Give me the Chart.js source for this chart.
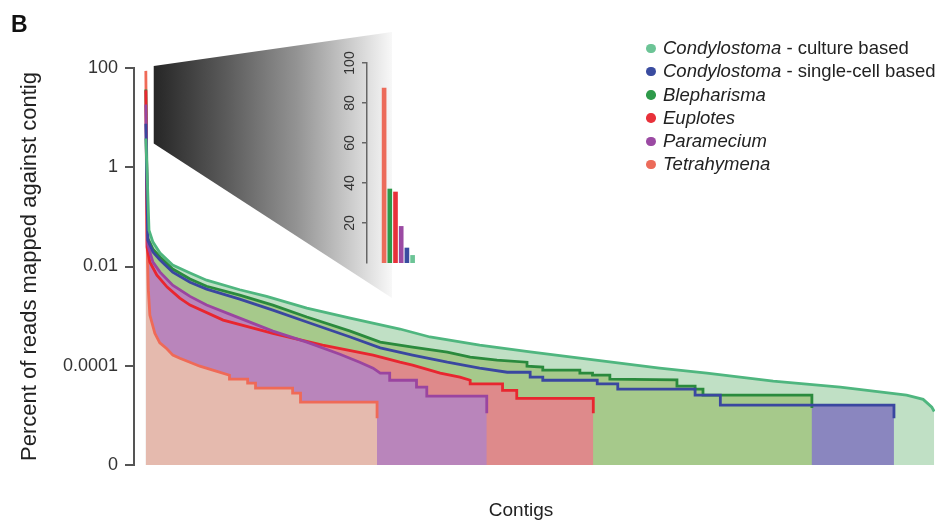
<!DOCTYPE html>
<html>
<head>
<meta charset="utf-8">
<script src="https://cdn.jsdelivr.net/npm/chart.js@4.4.1/dist/chart.umd.min.js"></script>
<style>
  html, body { margin: 0; padding: 0; background: #fff; }
  #wrap { position: relative; width: 939px; height: 520px; font-family: 'Liberation Sans', Arial, sans-serif; color: #222; overflow: hidden; }
  #main { position: absolute; left: 0; top: 0; }
  #inset-box { position: absolute; left: 330px; top: 40px; width: 100px; height: 240px; }
  .panel { position: absolute; left: 11px; top: 13px; font-size: 23px; line-height: 23px; font-weight: bold; color: #111; }
  .x-title { position: absolute; left: 421px; width: 200px; top: 500px; text-align: center; font-size: 19px; line-height: 19px; }
  #legend { position: absolute; left: 646px; top: 36px; }
  .row { position: relative; height: 23.3px; font-size: 18.5px; line-height: 23.3px; white-space: nowrap; }
  .dot { position: absolute; left: 0; top: 7.5px; width: 9.5px; height: 9.5px; border-radius: 50%; }
  .label { position: absolute; left: 17px; top: 0; }
  .label i { font-style: italic; }
</style>
</head>
<body>
<div id="wrap">
  <canvas id="main" width="939" height="520"></canvas>
  <div id="inset-box"><canvas id="inset" width="100" height="240"></canvas></div>
  <div class="panel">B</div>
  <div class="x-title">Contigs</div>
  <div id="legend"></div>
</div>
<script>
// x = contig rank (scaled 0-1000), y = percent of reads mapped against contig
const condyCulture = [[0, 3.8], [2, 0.5], [4, 0.054], [9, 0.031], [18, 0.0186], [34, 0.0107], [56, 0.0074],
    [77, 0.0053], [119, 0.0034], [153, 0.0025], [204, 0.00145], [259, 0.00091], [322, 0.00055], [360, 0.00038],
    [423, 0.00026], [487, 0.00019], [550, 0.000142], [651, 0.00009], [711, 0.000071], [795, 0.000049],
    [880, 0.000037], [964, 0.0000255], [985, 0.000021], [996, 0.0000146], [999, 0.000012]];

const condySingleCell = [[0, 7.5], [2.5, 0.034], [9, 0.0195], [18, 0.0135], [34, 0.0077], [56, 0.0048], [77, 0.0035],
    [119, 0.0022], [161, 0.00132], [204, 0.00076], [259, 0.00038], [297, 0.00023], [338, 0.000164], [382, 0.000118],
    [423, 0.00009], [458, 0.000074], [487, 0.000074], [487, 0.000059], [503, 0.000059], [503, 0.000051],
    [572, 0.000051], [572, 0.000043], [598, 0.000043], [598, 0.0000337], [696, 0.0000337], [696, 0.0000255],
    [728, 0.0000255], [728, 0.0000161], [948, 0.0000161], [948, 0.0000088]];

const blepharisma = [[0, 37], [2.5, 0.037], [9, 0.0224], [18, 0.0155], [34, 0.0089], [56, 0.0056], [77, 0.004],
    [119, 0.00265], [161, 0.00167], [204, 0.00096], [259, 0.0005], [297, 0.0003], [338, 0.000237], [382, 0.000188],
    [411, 0.000149], [445, 0.00013], [483, 0.000118], [483, 0.000098], [503, 0.000094], [503, 0.000082],
    [550, 0.000082], [550, 0.000071], [566, 0.000071], [566, 0.000065], [588, 0.000065], [588, 0.000054],
    [673, 0.000052], [673, 0.0000388], [696, 0.0000388], [696, 0.0000337], [706, 0.0000337], [706, 0.0000255],
    [844, 0.0000255], [844, 0.000014]];

const euplotes = [[0, 35.5], [1.5, 0.0246], [5, 0.0123], [14, 0.0067], [27, 0.00385], [43, 0.0023], [56, 0.00167],
    [98, 0.00083], [161, 0.00045], [224, 0.00026], [288, 0.000164], [322, 0.000118], [338, 0.000103],
    [373, 0.000071], [398, 0.000059], [411, 0.000051], [411, 0.000043], [452, 0.000043], [452, 0.000032],
    [470, 0.000032], [470, 0.000022], [567, 0.000022], [567, 0.000011]];

const paramecium = [[0, 18.3], [2.5, 0.027], [9, 0.0123], [18, 0.0077], [34, 0.0042], [56, 0.0025], [77, 0.00167],
    [119, 0.00091], [161, 0.0005], [204, 0.0003], [246, 0.000171], [271, 0.000118], [288, 0.0000895],
    [297, 0.000071], [309, 0.000071], [309, 0.000051], [343, 0.000051], [343, 0.000037], [356, 0.000037],
    [356, 0.0000244], [432, 0.0000244], [432, 0.0000111]];

const tetrahymena = [[0, 87.5], [1.9, 0.0214], [3.2, 0.0033], [5.1, 0.00105], [11.4, 0.00045], [17.7, 0.00029],
    [26.6, 0.00022], [34.2, 0.000164], [43.1, 0.000142], [55.8, 0.000118], [68.4, 0.000098], [84.9, 0.0000815],
    [106, 0.0000646], [106, 0.0000537], [129, 0.0000537], [129, 0.0000446], [139, 0.0000446], [139, 0.0000353],
    [186, 0.0000353], [186, 0.0000281], [196, 0.0000281], [196, 0.0000185], [293, 0.0000185], [293, 0.0000088]];

const SERIES = [condyCulture, condySingleCell, blepharisma, euplotes, paramecium, tetrahymena];
const SERIES_NAMES = ['Condylostoma', 'Condylostoma', 'Blepharisma', 'Euplotes', 'Paramecium', 'Tetrahymena'];
const SERIES_NOTES = [' - culture based', ' - single-cell based', '', '', '', ''];

const Y_TICKS = [0.000001, 0.0001, 0.01, 1, 100];
const Y_TICK_LABELS = ['0', '0.0001', '0.01', '1', '100'];
const INSET_TICKS = [20, 40, 60, 80, 100];
// inset bars, largest first
const INSET_ORDER = [5, 2, 3, 4, 1, 0];

// styles
const LINE_COLORS = ['#4fb67f', '#3a47a0', '#2a8a3d', '#e8262f', '#9a45a0', '#ef6a57'];
const FILL_COLORS = ['#c0e0c5', '#8a86bf', '#a6c98b', '#de8a8b', '#b985bb', '#e5baae'];
const DOT_COLORS = ['#6cc496', '#3a4ca0', '#2e9a4a', '#e8313a', '#9b4aa3', '#ec6b5a'];
const FILL_ORDER = [5, 4, 3, 2, 1, 0];   // culture at the back, Tetrahymena in front
const LINE_ORDER = [0, 1, 4, 3, 2, 5];   // taller peak drawn further back
const FONT = "'Liberation Sans', Arial, sans-serif";
const CONNECTOR = { right: 392, top: 32, bottom: 298 };

Chart.defaults.font.family = FONT;
Chart.defaults.color = '#333';

// legend
const legendEl = document.getElementById('legend');
SERIES_NAMES.forEach((name, i) => {
    const row = document.createElement('div');
    row.className = 'row';
    row.innerHTML = '<span class="dot" style="background:' + DOT_COLORS[i] + '"></span>' +
        '<span class="label"><i>' + name + '</i>' + SERIES_NOTES[i] + '</span>';
    legendEl.appendChild(row);
});

// grey wedge from the peak to the zoomed inset
const connector = {
    id: 'connector',
    beforeDraw(chart) {
        const { ctx, scales: { x, y } } = chart;
        const left = x.getPixelForValue(10);
        const top = y.getPixelForValue(100) - 2;
        const bottom = y.getPixelForValue(3);
        const g = ctx.createLinearGradient(left, 0, CONNECTOR.right, 0);
        g.addColorStop(0, '#262626');
        g.addColorStop(0.3, '#5a5a5a');
        g.addColorStop(0.6, '#939393');
        g.addColorStop(0.85, '#d2d2d2');
        g.addColorStop(1, '#f8f8f8');
        ctx.save();
        ctx.fillStyle = g;
        ctx.beginPath();
        ctx.moveTo(left, top);
        ctx.lineTo(CONNECTOR.right, CONNECTOR.top);
        ctx.lineTo(CONNECTOR.right, CONNECTOR.bottom);
        ctx.lineTo(left, bottom);
        ctx.closePath();
        ctx.fill();
        ctx.restore();
    }
};

const datasets = [];
SERIES.forEach((s, i) => {
    datasets.push({
        data: s,
        borderColor: 'rgba(0,0,0,0)',
        borderWidth: 0,
        backgroundColor: FILL_COLORS[i],
        fill: 'start',
        pointRadius: 0,
        tension: 0,
        order: FILL_ORDER[i]
    });
});
SERIES.forEach((s, i) => {
    datasets.push({
        data: s,
        borderColor: LINE_COLORS[i],
        borderWidth: 2.8,
        fill: false,
        pointRadius: 0,
        tension: 0,
        order: LINE_ORDER[i]
    });
});

new Chart(document.getElementById('main'), {
    type: 'line',
    data: { datasets },
    options: {
        responsive: false,
        animation: false,
        layout: { padding: { top: 68, right: 4, bottom: 55, left: 0 } },
        plugins: {
            legend: { display: false },
            tooltip: { enabled: false },
            filler: { drawTime: 'beforeDatasetsDraw' }
        },
        scales: {
            x: { type: 'linear', min: -15, max: 1000, display: false },
            y: {
                type: 'logarithmic',
                min: 0.000001,
                max: 100,
                afterFit: (scale) => { scale.width = 134; },
                afterBuildTicks: (scale) => { scale.ticks = Y_TICKS.map(v => ({ value: v })); },
                ticks: {
                    padding: 7,
                    font: { size: 18 },
                    color: '#333',
                    callback: (v) => Y_TICK_LABELS[Y_TICKS.indexOf(v)]
                },
                grid: { drawOnChartArea: false, drawTicks: true, tickLength: 9, color: '#555', lineWidth: 2 },
                border: { display: true, color: '#555', width: 2 },
                title: {
                    display: true,
                    text: 'Percent of reads mapped against contig',
                    font: { size: 22 },
                    color: '#222',
                    padding: { top: 17, bottom: 0 }
                }
            }
        }
    },
    plugins: [connector]
});

// rotated tick labels on the inset axis
const insetLabels = {
    id: 'insetLabels',
    afterDraw(chart) {
        const { ctx, chartArea, scales: { y } } = chart;
        ctx.save();
        ctx.fillStyle = '#333';
        ctx.font = '14px ' + FONT;
        ctx.textAlign = 'center';
        ctx.textBaseline = 'middle';
        y.ticks.forEach(t => {
            ctx.save();
            ctx.translate(chartArea.left - 17, y.getPixelForValue(t.value));
            ctx.rotate(-Math.PI / 2);
            ctx.fillText(String(t.value), 0, 0);
            ctx.restore();
        });
        ctx.restore();
    }
};

new Chart(document.getElementById('inset'), {
    type: 'bar',
    data: {
        datasets: [{
            data: INSET_ORDER.map((k, i) => ({ x: i, y: SERIES[k][0][1] })),
            backgroundColor: INSET_ORDER.map(k => DOT_COLORS[k]),
            barThickness: 4
        }]
    },
    options: {
        responsive: false,
        animation: false,
        layout: { padding: { top: 23, right: 6, bottom: 17, left: 0 } },
        plugins: { legend: { display: false }, tooltip: { enabled: false } },
        scales: {
            x: { type: 'linear', min: -3, max: 7, offset: false, display: false },
            y: {
                min: 0,
                max: 100,
                afterFit: (scale) => { scale.width = 37; },
                afterBuildTicks: (scale) => { scale.ticks = INSET_TICKS.map(v => ({ value: v })); },
                ticks: { display: false },
                grid: { drawOnChartArea: false, drawTicks: true, tickLength: 5, color: '#666', lineWidth: 1.5 },
                border: { display: true, color: '#666', width: 1.5 }
            }
        }
    },
    plugins: [insetLabels]
});
</script>
</body>
</html>
